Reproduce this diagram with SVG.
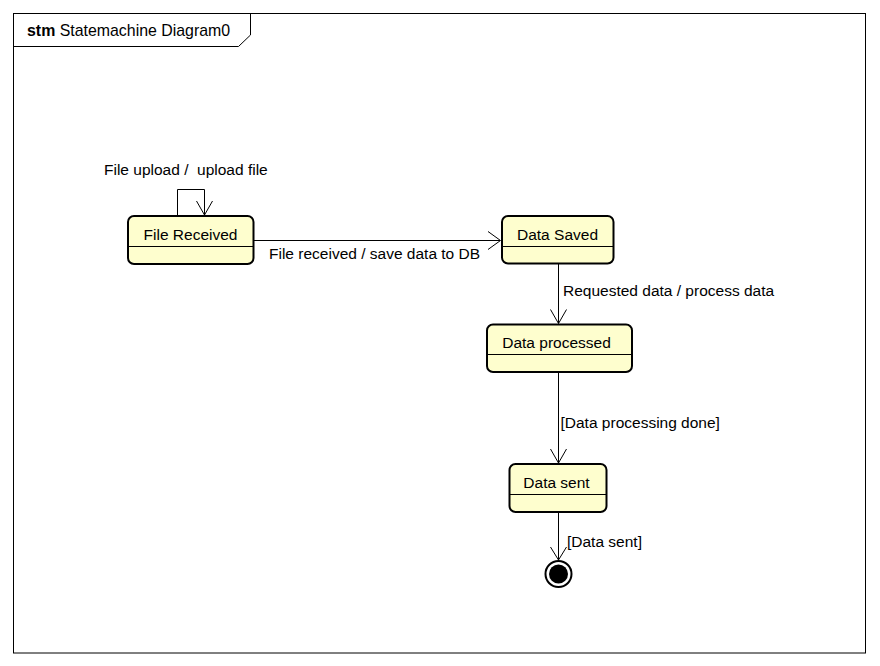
<svg xmlns="http://www.w3.org/2000/svg" width="880" height="666" viewBox="0 0 880 666">
<style>
text{font-family:"Liberation Sans",Arial,sans-serif;font-size:15.5px;fill:#000;white-space:pre}
.state{fill:#FEFECE;stroke:#000;stroke-width:2}
.div{stroke:#000;stroke-width:1}
.conn{fill:none;stroke:#000;stroke-width:1}
</style>
<rect x="0" y="0" width="880" height="666" fill="#fff"/>
<g id="frame">
<rect x="13.5" y="13.5" width="852" height="639.5" fill="none" stroke="#000" stroke-width="1"/>
<polyline points="13.5,46.5 238.5,46.5 250.5,35 250.5,13.5" fill="none" stroke="#000" stroke-width="1"/>
<text x="27" y="36" style="font-size:15.9px"><tspan font-weight="bold">stm</tspan> Statemachine Diagram0</text>
</g>
<g id="node-file-received">
<rect class="state" x="128" y="216" width="125.5" height="48" rx="6"/>
<line class="div" x1="128" y1="246.5" x2="253.5" y2="246.5"/>
<text x="190.5" y="240" text-anchor="middle">File Received</text>
</g>
<g id="node-data-saved">
<rect class="state" x="502" y="216" width="111.5" height="47.5" rx="6"/>
<line class="div" x1="502" y1="246.5" x2="613.5" y2="246.5"/>
<text x="557.5" y="239.5" text-anchor="middle">Data Saved</text>
</g>
<g id="node-data-processed">
<rect class="state" x="487" y="324.5" width="145" height="47.5" rx="6"/>
<line class="div" x1="487" y1="354.5" x2="632" y2="354.5"/>
<text x="556.5" y="347.5" text-anchor="middle">Data processed</text>
</g>
<g id="node-data-sent">
<rect class="state" x="509.5" y="464" width="97" height="48" rx="6"/>
<line class="div" x1="509.5" y1="494.5" x2="606.5" y2="494.5"/>
<text x="556.5" y="487.5" text-anchor="middle">Data sent</text>
</g>
<g id="node-final">
<circle cx="558.5" cy="574" r="13" fill="#fff" stroke="#000" stroke-width="2"/>
<circle cx="558.5" cy="574" r="9.5" fill="#000"/>
</g>
<g id="connectors">
<polyline class="conn" points="177.5,216 177.5,189.5 204.5,189.5 204.5,215"/>
<polyline class="conn" points="196.5,201 204.5,215 212.5,201"/>
<text x="104" y="175" xml:space="preserve">File upload /  upload file</text>
<line class="conn" x1="253.5" y1="240.5" x2="500" y2="240.5"/>
<polyline class="conn" points="488,231.5 500.5,240.5 488,249.5"/>
<text x="269" y="258.5">File received / save data to DB</text>
<line class="conn" x1="558.5" y1="263.5" x2="558.5" y2="323.5"/>
<polyline class="conn" points="550.5,309.5 558.5,323.5 566.5,309.5"/>
<text x="563" y="295.5">Requested data / process data</text>
<line class="conn" x1="558.5" y1="372" x2="558.5" y2="463"/>
<polyline class="conn" points="550.5,449 558.5,463 566.5,449"/>
<text x="560.5" y="427.5">[Data processing done]</text>
<line class="conn" x1="558.5" y1="512" x2="558.5" y2="560"/>
<polyline class="conn" points="550.5,547 558.5,560 566.5,547"/>
<text x="567" y="547">[Data sent]</text>
</g>
</svg>
